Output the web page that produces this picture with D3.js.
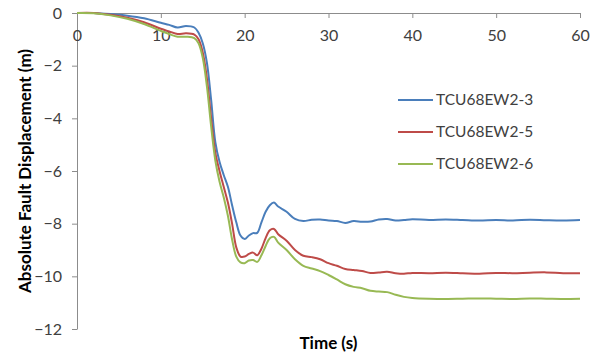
<!DOCTYPE html>
<html>
<head>
<meta charset="utf-8">
<script src="https://cdn.jsdelivr.net/npm/d3@7"></script>
<style>
  body { margin: 0; background: #fff; }
  text { font-family: Lato, "Open Sans", sans-serif; fill: #404040; }
</style>
</head>
<body>
<div id="vis"></div>
<script>
// setting up the basics
const FRAME_WIDTH = 598;
const FRAME_HEIGHT = 356;
const PLOT = {left: 77, right: 580, top: 13, bottom: 329};

// time (s), shared by all series
const TIMES = [0, 2, 4, 6, 8, 10, 11, 12, 13, 14, 14.5, 15, 15.5, 16, 16.5, 17, 17.5, 18, 18.5, 19, 19.5,
               20, 20.5, 21, 21.5, 22, 22.5, 23, 23.5, 24, 25, 26, 27, 28, 29, 30, 31, 32, 33, 34, 35,
               36, 37, 38, 39, 40, 42, 44, 46, 48, 50, 52, 54, 56, 58, 60];

const SERIES_NAMES = ['TCU68EW2-3', 'TCU68EW2-5', 'TCU68EW2-6'];
const SERIES_COLORS = ['#4A7EBB', '#BE4B48', '#98B954'];

const DISP_3 = [0, 0, -0.04, -0.10, -0.20, -0.37, -0.45, -0.55, -0.49, -0.55, -0.75, -1.15, -1.9, -3.3, -4.9, -5.65, -6.15, -6.6, -7.3, -7.95, -8.45,
                -8.58, -8.45, -8.36, -8.35, -7.95, -7.55, -7.3, -7.2, -7.35, -7.55, -7.82, -7.9, -7.85, -7.84, -7.88, -7.9, -7.97, -7.9, -7.93, -7.92,
                -7.84, -7.82, -7.88, -7.86, -7.83, -7.86, -7.84, -7.86, -7.88, -7.86, -7.88, -7.85, -7.87, -7.88, -7.86];

const DISP_5 = [0, 0, -0.07, -0.18, -0.35, -0.6, -0.7, -0.8, -0.77, -0.82, -1.0, -1.5, -2.5, -4.0, -5.3, -6.0, -6.6, -7.2, -8.0, -8.9, -9.25,
                -9.25, -9.15, -9.1, -9.2, -8.95, -8.55, -8.25, -8.2, -8.4, -8.65, -9.0, -9.22, -9.27, -9.35, -9.5, -9.6, -9.72, -9.76, -9.8, -9.87,
                -9.85, -9.83, -9.88, -9.9, -9.87, -9.88, -9.86, -9.88, -9.9, -9.87, -9.88, -9.86, -9.85, -9.88, -9.88];

const DISP_6 = [0, -0.01, -0.09, -0.22, -0.42, -0.68, -0.8, -0.9, -0.9, -0.95, -1.15, -1.7, -2.8, -4.3, -5.6, -6.4, -7.0, -7.7, -8.6, -9.25, -9.47,
                -9.5, -9.4, -9.38, -9.45, -9.2, -8.85, -8.55, -8.5, -8.72, -9.0, -9.35, -9.6, -9.7, -9.8, -9.95, -10.12, -10.3, -10.4, -10.45, -10.55,
                -10.58, -10.6, -10.7, -10.78, -10.82, -10.85, -10.86, -10.85, -10.84, -10.85, -10.86, -10.84, -10.85, -10.86, -10.85];

const X_TICKS = [0, 10, 20, 30, 40, 50, 60];
const Y_TICKS = [0, -2, -4, -6, -8, -10, -12];

const FRAME = d3.select('#vis')
                  .append('svg')
                    .attr('width', FRAME_WIDTH)
                    .attr('height', FRAME_HEIGHT);

const X_SCALE = d3.scaleLinear().domain([0, 60]).range([PLOT.left, PLOT.right]);
const Y_SCALE = d3.scaleLinear().domain([-12, 0]).range([PLOT.bottom, PLOT.top]);

// y axis
const yAxis = FRAME.append('g')
    .attr('transform', 'translate(' + PLOT.left + ',0)')
    .call(d3.axisLeft(Y_SCALE).tickValues(Y_TICKS).tickSize(5).tickPadding(10).tickSizeOuter(0));
yAxis.selectAll('text').attr('font-size', '16px').style('font-family', 'Lato, sans-serif');

// x axis sits on y = 0, at the top of the plot, ticks point down
const xAxis = FRAME.append('g')
    .attr('transform', 'translate(0,' + Y_SCALE(0) + ')')
    .call(d3.axisBottom(X_SCALE).tickValues(X_TICKS).tickSize(5).tickPadding(12).tickSizeOuter(0));
xAxis.selectAll('text').attr('font-size', '16px');

FRAME.selectAll('.domain, .tick line').attr('stroke', '#8c8c8c');
FRAME.selectAll('.tick text').attr('fill', '#404040');

// lines
const SERIES = [DISP_3, DISP_5, DISP_6];
const line = d3.line()
    .x((d, i) => X_SCALE(TIMES[i]))
    .y(d => Y_SCALE(d))
    .curve(d3.curveCatmullRom.alpha(0.5));

FRAME.selectAll('.series')
    .data(SERIES)
    .enter()
    .append('path')
      .attr('class', 'series')
      .attr('d', d => line(d))
      .attr('fill', 'none')
      .attr('stroke', (d, i) => SERIES_COLORS[i])
      .attr('stroke-width', 2);

// legend
const legend = FRAME.selectAll('.legend')
    .data(SERIES_NAMES)
    .enter()
    .append('g')
      .attr('class', 'legend')
      .attr('transform', (d, i) => 'translate(398,' + (100 + i * 32) + ')');
legend.append('line')
    .attr('x1', 0).attr('x2', 35)
    .attr('stroke', (d, i) => SERIES_COLORS[i])
    .attr('stroke-width', 2);
legend.append('text')
    .attr('x', 38)
    .attr('dy', '0.35em')
    .attr('font-size', '15.5px')
    .text(d => d);

// axis titles
FRAME.append('text')
    .attr('x', (PLOT.left + PLOT.right) / 2)
    .attr('y', 349)
    .attr('text-anchor', 'middle')
    .attr('font-size', '17px')
    .attr('font-weight', 'bold')
    .style('fill', '#000')
    .text('Time (s)');

FRAME.append('text')
    .attr('transform', 'translate(31,' + (PLOT.top + PLOT.bottom) / 2 + ') rotate(-90)')
    .attr('text-anchor', 'middle')
    .attr('font-size', '17px')
    .attr('font-weight', 'bold')
    .style('fill', '#000')
    .text('Absolute Fault Displacement (m)');
</script>
</body>
</html>
